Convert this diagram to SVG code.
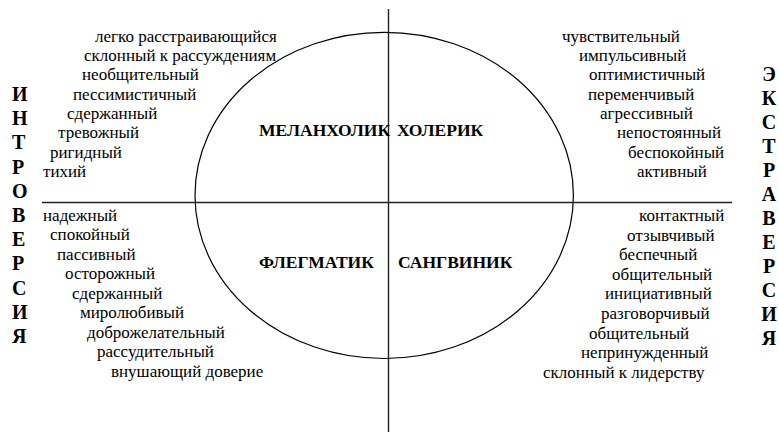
<svg xmlns="http://www.w3.org/2000/svg" width="779" height="434" viewBox="0 0 779 434">
  <style>
    text { font-family: 'Liberation Serif', 'DejaVu Serif', serif; fill: #000; }
    .t { font-size: 17px; }
    .type { font-size: 17.5px; font-weight: bold; }
    .side { font-size: 20px; font-weight: bold; }
    .axis { stroke: #222; stroke-width: 1.4; fill: none; }
    .oval { stroke: #000; stroke-width: 1.2; fill: none; }
  </style>
  <rect width="779" height="434" fill="#fff"/>

  <!-- axes and temperament oval -->
  <g id="connectors">
    <ellipse class="oval" cx="384.2" cy="195.4" rx="189.2" ry="163.1"/>
    <line class="axis" x1="388.5" y1="9" x2="388.5" y2="432"/>
    <line class="axis" x1="42" y1="202.5" x2="732" y2="202.5"/>
  </g>

  <!-- introversion, vertical -->
  <g id="introversion">
    <text class="side" x="12" y="101">И</text>
    <text class="side" x="12" y="125.2">Н</text>
    <text class="side" x="12" y="149.4">Т</text>
    <text class="side" x="12" y="173.6">Р</text>
    <text class="side" x="12" y="197.8">О</text>
    <text class="side" x="12" y="222">В</text>
    <text class="side" x="12" y="246.2">Е</text>
    <text class="side" x="12" y="270.4">Р</text>
    <text class="side" x="12" y="294.6">С</text>
    <text class="side" x="12" y="318.8">И</text>
    <text class="side" x="12" y="343">Я</text>
  </g>

  <!-- extraversion, vertical -->
  <g id="extraversion" text-anchor="middle">
    <text class="side" x="769" y="81">Э</text>
    <text class="side" x="769" y="105">К</text>
    <text class="side" x="769" y="129">С</text>
    <text class="side" x="769" y="153">Т</text>
    <text class="side" x="769" y="177">Р</text>
    <text class="side" x="769" y="201">А</text>
    <text class="side" x="769" y="225">В</text>
    <text class="side" x="769" y="249">Е</text>
    <text class="side" x="769" y="273">Р</text>
    <text class="side" x="769" y="297">С</text>
    <text class="side" x="769" y="321">И</text>
    <text class="side" x="769" y="345">Я</text>
  </g>

  <!-- temperament names -->
  <g id="melancholic"><text class="type" x="259" y="135.5">МЕЛАНХОЛИК</text></g>
  <g id="choleric"><text class="type" x="397" y="135.5">ХОЛЕРИК</text></g>
  <g id="phlegmatic"><text class="type" x="259" y="268.3">ФЛЕГМАТИК</text></g>
  <g id="sanguine"><text class="type" x="398" y="268.3">САНГВИНИК</text></g>

  <!-- melancholic traits -->
  <g id="melancholic-traits">
    <text class="t" x="95" y="41.5">легко расстраивающийся</text>
    <text class="t" x="84" y="60.85">склонный к рассуждениям</text>
    <text class="t" x="82" y="80.2">необщительный</text>
    <text class="t" x="73" y="99.55">пессимистичный</text>
    <text class="t" x="67" y="118.9">сдержанный</text>
    <text class="t" x="58" y="138.25">тревожный</text>
    <text class="t" x="50" y="157.6">ригидный</text>
    <text class="t" x="43" y="176.95">тихий</text>
  </g>

  <!-- choleric traits -->
  <g id="choleric-traits">
    <text class="t" x="562" y="41.5">чувствительный</text>
    <text class="t" x="579" y="60.85">импульсивный</text>
    <text class="t" x="589" y="80.2">оптимистичный</text>
    <text class="t" x="588" y="99.55">переменчивый</text>
    <text class="t" x="600" y="118.9">агрессивный</text>
    <text class="t" x="617" y="138.25">непостоянный</text>
    <text class="t" x="628" y="157.6">беспокойный</text>
    <text class="t" x="637" y="176.95">активный</text>
  </g>

  <!-- phlegmatic traits -->
  <g id="phlegmatic-traits">
    <text class="t" x="43" y="220.5">надежный</text>
    <text class="t" x="50" y="240.05">спокойный</text>
    <text class="t" x="57" y="259.6">пассивный</text>
    <text class="t" x="65" y="279.15">осторожный</text>
    <text class="t" x="72" y="298.7">сдержанный</text>
    <text class="t" x="80" y="318.25">миролюбивый</text>
    <text class="t" x="87" y="337.8">доброжелательный</text>
    <text class="t" x="97" y="357.35">рассудительный</text>
    <text class="t" x="111" y="376.9">внушающий доверие</text>
  </g>

  <!-- sanguine traits -->
  <g id="sanguine-traits">
    <text class="t" x="639" y="221">контактный</text>
    <text class="t" x="627" y="240.6">отзывчивый</text>
    <text class="t" x="619" y="260.2">беспечный</text>
    <text class="t" x="612" y="279.8">общительный</text>
    <text class="t" x="605" y="299.4">инициативный</text>
    <text class="t" x="601" y="319">разговорчивый</text>
    <text class="t" x="589" y="338.6">общительный</text>
    <text class="t" x="581" y="358.2">непринужденный</text>
    <text class="t" x="543" y="377.8">склонный к лидерству</text>
  </g>
</svg>
